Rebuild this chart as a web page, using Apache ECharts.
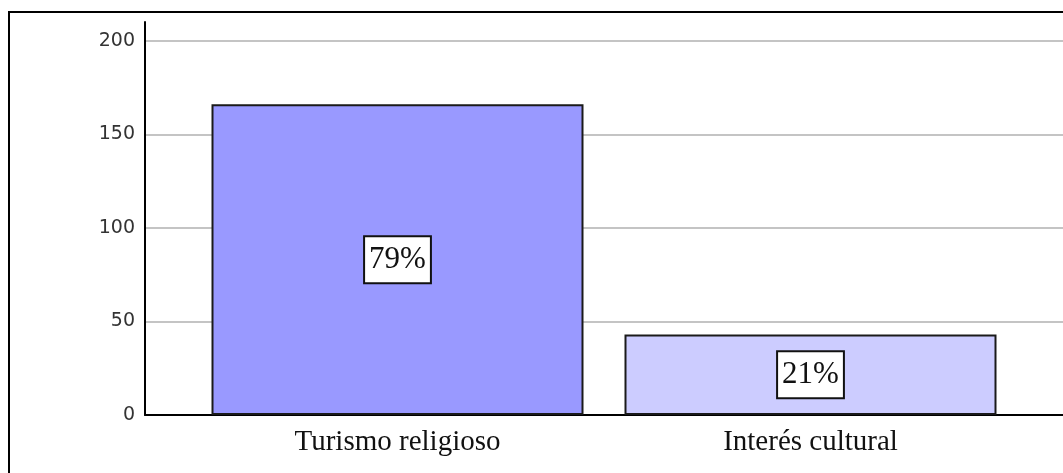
<!DOCTYPE html>
<html>
<head>
<meta charset="utf-8">
<script src="https://cdn.jsdelivr.net/npm/echarts@6/dist/echarts.min.js"></script>
<style>
  html, body { margin: 0; padding: 0; background: #ffffff; }
  #chart { width: 1063px; height: 473px; }
</style>
</head>
<body>
<div id="chart"></div>
<script>
// Categories and counts per category
const categories = ['Turismo religioso', 'Interés cultural'];
const counts = [166, 43];
const barColors = ['#9999ff', '#ccccff'];
const yTicks = [0, 50, 100, 150, 200];

const total = counts.reduce((a, b) => a + b, 0);

const chart = echarts.init(document.getElementById('chart'), null, { renderer: 'canvas' });

const yMin = 0, yMax = 210;

chart.setOption({
  backgroundColor: '#ffffff',
  animation: false,
  graphic: [{
    type: 'rect',
    shape: { x: 9, y: 12, width: 1100, height: 500 },
    style: { fill: 'none', stroke: '#000000', lineWidth: 2 },
    silent: true,
    z: 0
  }],
  grid: [
    // frame grid: value axis, gridlines and baseline
    { left: 145, top: 22, height: 393, right: -20 },
    // bar grid: categories centred under each bar
    { left: 191, top: 22, height: 393, width: 826 }
  ],
  xAxis: [
    {
      gridIndex: 0, type: 'value', min: 0, max: 1,
      axisLine: { show: true, onZero: false, lineStyle: { color: '#000000', width: 2 } },
      axisTick: { show: false }, axisLabel: { show: false }, splitLine: { show: false }
    },
    {
      gridIndex: 1, type: 'category', data: categories,
      axisLine: { show: false }, axisTick: { show: false },
      axisLabel: {
        margin: 13,
        fontFamily: 'Liberation Serif',
        fontSize: 29,
        color: '#111111'
      }
    }
  ],
  yAxis: [
    {
      gridIndex: 0, type: 'value', min: yMin, max: yMax, interval: 50,
      axisLine: { show: true, lineStyle: { color: '#000000', width: 2 } },
      axisTick: { show: false },
      axisLabel: {
        showMaxLabel: false,
        margin: 10,
        fontFamily: 'DejaVu Sans',
        fontSize: 19,
        color: '#333333',
        padding: [4, 0, 0, 0],
        formatter: v => (yTicks.includes(v) ? String(v) : '')
      },
      splitLine: { show: true, showMaxLine: false, lineStyle: { color: '#c4c4c4', width: 2 } }
    },
    {
      gridIndex: 1, type: 'value', min: yMin, max: yMax, interval: 50,
      show: false, splitLine: { show: false }
    }
  ],
  series: [{
    type: 'bar',
    xAxisIndex: 1,
    yAxisIndex: 1,
    barWidth: 372,
    data: counts.map((v, i) => ({
      value: v,
      itemStyle: { color: barColors[i], borderColor: '#1a1a1a', borderWidth: 2 }
    })),
    label: {
      show: true,
      position: 'inside',
      formatter: p => Math.round(p.value / total * 100) + '%',
      fontFamily: 'Liberation Serif',
      fontSize: 31,
      color: '#111111',
      backgroundColor: '#ffffff',
      borderColor: '#111111',
      borderWidth: 2,
      padding: [8, 4, 6, 4]
    },
    z: 3
  }]
});
</script>
</body>
</html>
